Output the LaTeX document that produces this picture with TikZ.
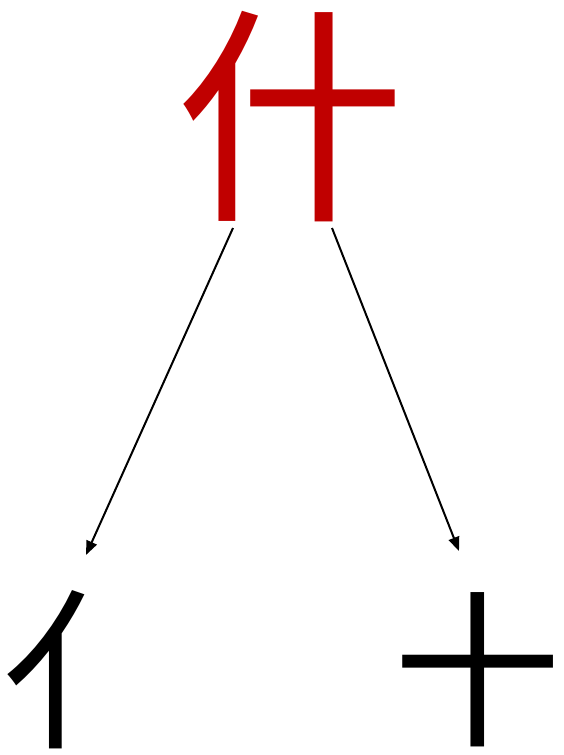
\documentclass[tikz,border=0pt]{standalone}
\usepackage{fontspec}
\newfontfamily\cjk{Noto Sans CJK SC}
\usetikzlibrary{arrows.meta}
\definecolor{charred}{RGB}{192,0,0}
\tikzset{
  glyph/.style={inner sep=0pt, outer sep=0pt, font=\cjk},
  link/.style={draw=black, line width=2pt, -{Triangle[length=14pt,width=11pt]}}
}
\begin{document}
\begin{tikzpicture}[x=1pt,y=-1pt]
\useasboundingbox (0,0) rectangle (563,755);
\node[glyph, text=charred, font=\cjk\fontsize{230}{230}\selectfont] (top) at (290,117) {什};
\node[glyph, font=\cjk\fontsize{172}{172}\selectfont] (left) at (88,670) {亻};
\node[glyph, font=\cjk\fontsize{168}{168}\selectfont] (right) at (477,670) {十};
\coordinate (ls) at (233,228);
\coordinate (le) at (86,555);
\coordinate (rs) at (332,228);
\coordinate (re) at (459,551);
\draw[link] (ls) -- (le);
\draw[link] (rs) -- (re);
\end{tikzpicture}
\end{document}
